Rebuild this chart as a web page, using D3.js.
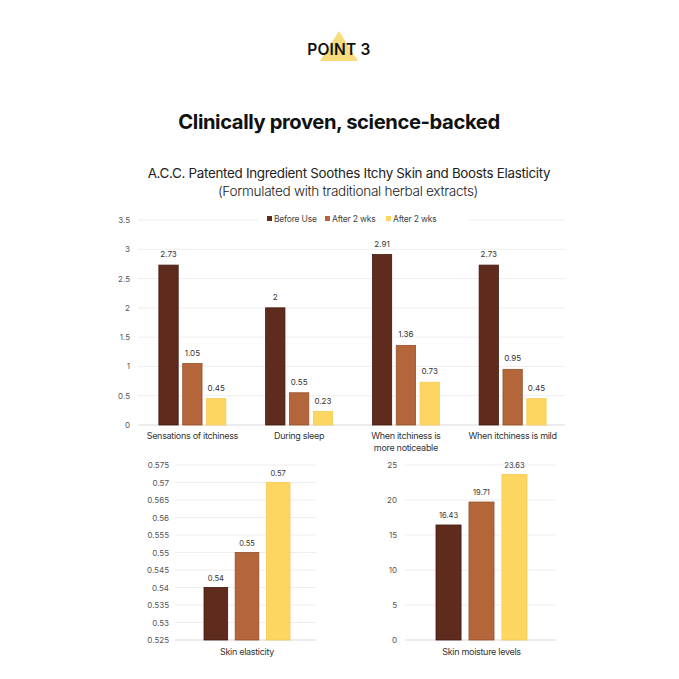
<!DOCTYPE html>
<html><head><meta charset="utf-8">
<script src="https://cdn.jsdelivr.net/npm/d3@7"></script>
<style>
html,body{margin:0;padding:0;background:#fff;}
svg{display:block;font-family:Inter,"Noto Sans",sans-serif;}
</style></head>
<body>
<svg id="c" width="679" height="679"></svg>
<script>
// ---- data ----
const seriesNames = ["Before Use", "After 2 wks", "After 2 wks"];
const seriesColors = ["#5e2b1d", "#b4663a", "#fdd661"];
const seriesStrokes = ["#43190e", "#95502a", "#f5cb55"];
const topCategories = [["Sensations of itchiness"], ["During sleep"], ["When itchiness is", "more noticeable"], ["When itchiness is mild"]];
const topBefore = [2.73, 2, 2.91, 2.73];
const topAfter1 = [1.05, 0.55, 1.36, 0.95];
const topAfter2 = [0.45, 0.23, 0.73, 0.45];
const topTicks = [0, 0.5, 1, 1.5, 2, 2.5, 3, 3.5];
const elasticityCategory = "Skin elasticity";
const elasticityValues = [0.54, 0.55, 0.57];
const elasticityTicks = [0.525, 0.53, 0.535, 0.54, 0.545, 0.55, 0.555, 0.56, 0.565, 0.57, 0.575];
const moistureCategory = "Skin moisture levels";
const moistureValues = [16.43, 19.71, 23.63];
const moistureTicks = [0, 5, 10, 15, 20, 25];

const svg = d3.select("#c");

// ---- header ----
svg.append("path")
  .attr("d", "M339,31 L358,61 L320,61 Z")
  .attr("fill", "#f8dc7c");
svg.append("text").attr("x", 339).attr("y", 55).attr("text-anchor", "middle")
  .attr("font-size", 15.5).attr("font-weight", 600).attr("fill", "#111")
  .attr("letter-spacing", 0.2).text("POINT 3");
svg.append("text").attr("x", 339).attr("y", 129).attr("text-anchor", "middle")
  .attr("font-size", 20.2).attr("font-weight", 700).attr("fill", "#111")
  .attr("letter-spacing", -0.4).text("Clinically proven, science-backed");
svg.append("text").attr("x", 349).attr("y", 178).attr("text-anchor", "middle")
  .attr("font-size", 13.4).attr("font-weight", 400).attr("fill", "#222")
  .attr("letter-spacing", -0.3).text("A.C.C. Patented Ingredient Soothes Itchy Skin and Boosts Elasticity");
svg.append("text").attr("x", 348).attr("y", 196).attr("text-anchor", "middle")
  .attr("font-size", 13.6).attr("font-weight", 300).attr("fill", "#222")
  .attr("letter-spacing", -0.3).text("(Formulated with traditional herbal extracts)");

function gridAxis(g, y, ticks, x0, x1, fmt, labelX) {
  ticks.forEach(t => {
    g.append("line").attr("x1", x0).attr("x2", x1).attr("y1", y(t)).attr("y2", y(t))
      .attr("stroke", t === ticks[0] ? "#d9d9d9" : "#eeeeee").attr("stroke-width", 1);
    g.append("text").attr("x", labelX).attr("y", y(t) + 3).attr("text-anchor", "end")
      .attr("font-size", 8).attr("fill", "#555").text(fmt(t));
  });
}

// ---- top chart ----
const topG = svg.append("g");
const yTop = d3.scaleLinear().domain([0, 3.5]).range([425, 220]);
const xTop = d3.scaleBand().domain(d3.range(4)).range([138, 565]);
const xSub = d3.scaleBand().domain(d3.range(3)).range([0, 67]).paddingInner(0.19);
gridAxis(topG, yTop, topTicks, 138, 565, d => String(d), 130);
// legend background
topG.append("rect").attr("x", 258).attr("y", 211).attr("width", 210).attr("height", 16).attr("fill", "#fff");
const legendX = [267, 325, 386];
seriesNames.forEach((n, i) => {
  topG.append("rect").attr("x", legendX[i]).attr("y", 216).attr("width", 5).attr("height", 5)
    .attr("fill", seriesColors[i]);
  topG.append("text").attr("x", legendX[i] + 7).attr("y", 222).attr("font-size", 8.5)
    .attr("fill", "#444").attr("letter-spacing", -0.2).text(n);
});
const topSeries = [topBefore, topAfter1, topAfter2];
topCategories.forEach((cat, ci) => {
  const gx = xTop(ci) + (xTop.bandwidth() - 67) / 2 + 1;
  topSeries.forEach((vals, si) => {
    const v = vals[ci];
    const x = gx + xSub(si);
    topG.append("rect").attr("x", x).attr("y", yTop(v)).attr("width", xSub.bandwidth())
      .attr("height", yTop(0) - yTop(v)).attr("fill", seriesColors[si])
      .attr("stroke", seriesStrokes[si]).attr("stroke-width", 0.8);
    topG.append("text").attr("x", x + xSub.bandwidth() / 2).attr("y", yTop(v) - 8)
      .attr("text-anchor", "middle").attr("font-size", 8).attr("fill", "#333").text(String(v));
  });
  cat.forEach((line, li) => {
    topG.append("text").attr("x", xTop(ci) + xTop.bandwidth() / 2 + 1).attr("y", 439 + li * 12)
      .attr("text-anchor", "middle").attr("font-size", 9).attr("fill", "#333")
      .attr("letter-spacing", -0.3).text(line);
  });
});

// ---- bottom charts ----
function smallChart(values, ticks, domain, x0, x1, labelX, cat, barX, fmt) {
  const g = svg.append("g");
  const y = d3.scaleLinear().domain(domain).range([640, 465]);
  gridAxis(g, y, ticks, x0, x1, fmt, labelX);
  const xb = d3.scaleBand().domain(d3.range(3)).range(barX).paddingInner(0.24);
  values.forEach((v, i) => {
    g.append("rect").attr("x", xb(i)).attr("y", y(v)).attr("width", xb.bandwidth())
      .attr("height", y(domain[0]) - y(v)).attr("fill", seriesColors[i])
      .attr("stroke", seriesStrokes[i]).attr("stroke-width", 0.8);
    g.append("text").attr("x", xb(i) + xb.bandwidth() / 2).attr("y", y(v) - 7)
      .attr("text-anchor", "middle").attr("font-size", 7.5).attr("fill", "#333").text(String(v));
  });
  g.append("text").attr("x", (barX[0] + barX[1]) / 2).attr("y", 655)
    .attr("text-anchor", "middle").attr("font-size", 9).attr("fill", "#333")
    .attr("letter-spacing", -0.3).text(cat);
}
smallChart(elasticityValues, elasticityTicks, [0.525, 0.575], 175, 316, 169, elasticityCategory, [204, 290], d => d3.format(".3~f")(d));
smallChart(moistureValues, moistureTicks, [0, 25], 405, 556, 397, moistureCategory, [436, 527], d => String(d));
</script>
</body></html>
